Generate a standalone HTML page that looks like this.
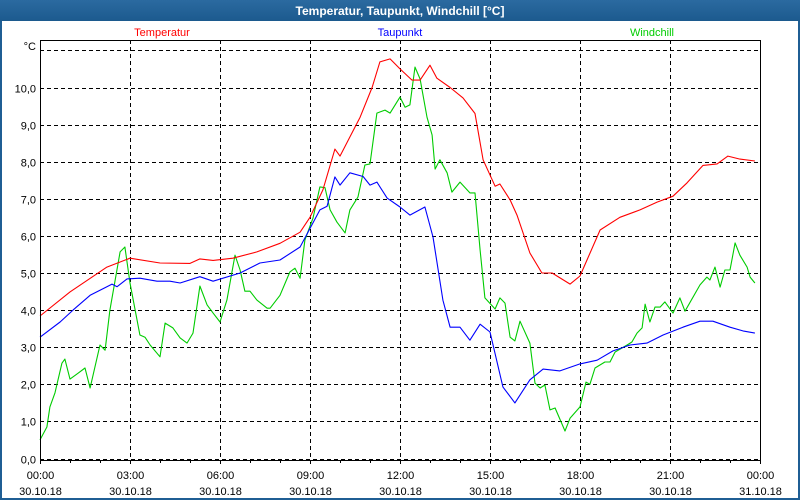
<!DOCTYPE html>
<html><head><meta charset="utf-8"><style>
html,body{margin:0;padding:0;background:#fff;}
#wrap{position:relative;width:800px;height:500px;overflow:hidden;font-family:"Liberation Sans",sans-serif;}
svg text{font-family:"Liberation Sans",sans-serif;}
</style></head><body>
<div id="wrap">
<svg id="chart" width="800" height="500" xmlns="http://www.w3.org/2000/svg">
  <defs><linearGradient id="tb" x1="0" y1="0" x2="0" y2="1"><stop offset="0" stop-color="#2b6aa0"/><stop offset="1" stop-color="#1c5a8e"/></linearGradient></defs>
  <rect x="0" y="0" width="800" height="500" fill="#1f5e94"/>
  <rect x="2" y="21" width="796" height="477" fill="#ffffff"/>
  <rect x="0" y="0" width="800" height="21" fill="url(#tb)"/>
  <text x="400" y="15" text-anchor="middle" font-size="12" font-weight="bold" fill="#ffffff">Temperatur, Taupunkt, Windchill [°C]</text>
  <text x="162" y="36" text-anchor="middle" font-size="11" fill="#ff0000">Temperatur</text>
  <text x="400" y="36" text-anchor="middle" font-size="11" fill="#0000ff">Taupunkt</text>
  <text x="652" y="36" text-anchor="middle" font-size="11" fill="#00cc00">Windchill</text>
  <text x="36" y="50" text-anchor="end" font-size="11" fill="#000">°C</text>
  <g id="grid"></g>
  <g id="series"></g>
  <rect x="40.5" y="40.5" width="720" height="420" fill="none" stroke="#000" stroke-width="1"/>
  <g id="axes"></g>
</svg>
</div>
<script>
const yTicks = [0,1,2,3,4,5,6,7,8,9,10,11];
const yLabels = ["0,0","1,0","2,0","3,0","4,0","5,0","6,0","7,0","8,0","9,0","10,0",""];
const xTicks = [0,3,6,9,12,15,18,21,24];
const xTimeLabels = ["00:00","03:00","06:00","09:00","12:00","15:00","18:00","21:00","00:00"];
const xDateLabels = ["30.10.18","30.10.18","30.10.18","30.10.18","30.10.18","30.10.18","30.10.18","30.10.18","31.10.18"];

const tempHours = [0,1,2.23,3,4,5,5.33,5.77,6.43,7.23,8,8.67,9,9.43,9.83,10,10.67,11.07,11.33,11.67,12,12.4,12.67,13,13.23,13.67,14.1,14.5,14.77,15.17,15.33,15.67,15.9,16.33,16.73,17.07,17.67,18,18.67,19.33,20,20.57,21.1,21.57,22.1,22.57,22.93,23.33,23.83];
const tempValues = [3.84,4.49,5.16,5.4,5.27,5.26,5.38,5.34,5.4,5.57,5.8,6.1,6.5,7.24,8.34,8.15,9.2,10.0,10.69,10.77,10.5,10.2,10.2,10.6,10.25,10.0,9.72,9.3,8.05,7.34,7.4,6.97,6.56,5.54,5.0,5.0,4.7,4.92,6.16,6.5,6.7,6.91,7.07,7.43,7.9,7.94,8.15,8.07,8.02];

const dewHours = [0,0.67,1.1,1.67,2.23,2.4,2.57,2.9,3.33,3.9,4.33,4.67,5.33,5.77,6.67,7.33,8,8.67,9.33,9.57,9.83,10,10.33,10.77,11,11.23,11.57,12,12.33,12.83,13.1,13.43,13.67,14,14.33,14.67,15,15.43,15.83,16.33,16.77,17.33,18,18.57,19.1,19.67,20.23,20.77,21.43,22,22.43,23,23.43,23.83];
const dewValues = [3.27,3.68,4.0,4.4,4.63,4.7,4.63,4.84,4.86,4.78,4.78,4.73,4.9,4.78,5.0,5.27,5.35,5.7,6.7,6.8,7.59,7.37,7.7,7.6,7.37,7.45,7.02,6.78,6.56,6.78,5.97,4.27,3.54,3.54,3.19,3.62,3.41,1.93,1.5,2.12,2.41,2.36,2.55,2.65,2.9,3.06,3.11,3.33,3.54,3.7,3.7,3.54,3.44,3.38];

const chillHours = [0,0.23,0.33,0.5,0.73,0.83,1,1.27,1.5,1.67,2,2.17,2.33,2.67,2.83,3,3.33,3.5,3.67,4,4.17,4.43,4.67,4.9,5.1,5.33,5.57,5.77,6,6.23,6.5,6.67,6.83,7,7.23,7.57,7.67,8,8.33,8.5,8.67,8.83,9.1,9.33,9.5,9.67,9.9,10.17,10.33,10.6,10.83,11,11.23,11.5,11.67,12,12.17,12.33,12.5,12.67,12.9,13.07,13.17,13.33,13.57,13.73,14,14.33,14.5,14.67,14.83,15.17,15.33,15.5,15.67,15.83,16,16.33,16.5,16.67,16.83,17,17.17,17.5,17.67,18,18.2,18.33,18.5,18.83,19,19.17,19.57,19.73,19.9,20.07,20.17,20.33,20.5,20.67,20.83,21.1,21.33,21.5,22,22.23,22.33,22.5,22.67,22.83,23,23.17,23.33,23.57,23.67,23.83];
const chillValues = [0.5,0.85,1.39,1.77,2.57,2.68,2.14,2.3,2.44,1.9,3.06,2.92,4.0,5.57,5.7,4.73,3.33,3.27,3.06,2.74,3.65,3.52,3.25,3.11,3.38,4.65,4.14,3.92,3.68,4.27,5.48,5.08,4.51,4.51,4.27,4.05,4.05,4.4,5.03,5.13,4.86,5.89,6.48,7.32,7.3,6.7,6.37,6.08,6.7,7.05,7.91,7.94,9.31,9.39,9.31,9.74,9.47,9.53,10.55,10.23,9.2,8.72,7.8,8.05,7.7,7.18,7.45,7.16,7.16,5.62,4.33,4.03,4.33,4.19,3.27,3.17,3.7,3.11,2.03,1.9,1.98,1.31,1.36,0.74,1.09,1.39,2.06,2.0,2.44,2.6,2.6,2.87,3.06,3.14,3.38,3.52,4.16,3.68,4.08,4.08,4.22,3.92,4.33,3.97,4.68,4.89,4.81,5.16,4.62,5.08,5.08,5.81,5.48,5.16,4.89,4.73];

const NS = "http://www.w3.org/2000/svg";
const X0 = 40, X1 = 760, Y0 = 458.5, PX_PER_UNIT = 37.1;
function xScale(h){ return X0 + (h/24)*(X1-X0); }
function yScale(v){ return Y0 - v*PX_PER_UNIT; }
function mk(tag, attrs, parent){ const e=document.createElementNS(NS,tag); for(const k in attrs) e.setAttribute(k,attrs[k]); parent.appendChild(e); return e; }

const grid = document.getElementById('grid');
const axes = document.getElementById('axes');
yTicks.forEach((t,i)=>{
  const y = Math.round(yScale(t))+0.5;
  const l = mk('line',{x1:X0,x2:X1,y1:y,y2:y,stroke:'#000','stroke-width':1,'stroke-dasharray':'4,3'},grid);
  
  
  if(yLabels[i]){
    const tx = mk('text',{x:36,y:y+4,'text-anchor':'end','font-size':11,fill:'#000'},axes);
    tx.textContent = yLabels[i];
    
    
  }
});
xTicks.forEach((t,i)=>{
  const x = Math.round(xScale(t))+0.5;
  if(t>0 && t<24){
    const l = mk('line',{x1:x,x2:x,y1:40,y2:460,stroke:'#000','stroke-width':1,'stroke-dasharray':'4,3'},grid);
    
    
  }
  const a = mk('text',{x:x,y:479,'text-anchor':'middle','font-size':11,fill:'#000'},axes);
  a.textContent = xTimeLabels[i];
  
  
  const b = mk('text',{x:x,y:495,'text-anchor':'middle','font-size':11,fill:'#000'},axes);
  b.textContent = xDateLabels[i];
  
  
});
for(let h=0;h<=24;h++){
  const x = Math.round(xScale(h))+0.5;
  const tk = mk('line',{x1:x,x2:x,y1:460,y2:h%3===0?464:463,stroke:'#000','stroke-width':1},axes);
  
  
}

const series = document.getElementById('series');
function drawLine(hours, vals, color, name){
  const pts = hours.map((h,i)=>xScale(h).toFixed(1)+','+yScale(vals[i]).toFixed(1)).join(' ');
  const p = mk('polyline',{points:pts,fill:'none',stroke:color,'stroke-width':1.1,'stroke-linejoin':'round'},series);
  
  
}
drawLine(chillHours, chillValues, '#00cc00', 'windchill-line');
drawLine(dewHours, dewValues, '#0000ff', 'taupunkt-line');
drawLine(tempHours, tempValues, '#ff0000', 'temperatur-line');
</script>
</body></html>
